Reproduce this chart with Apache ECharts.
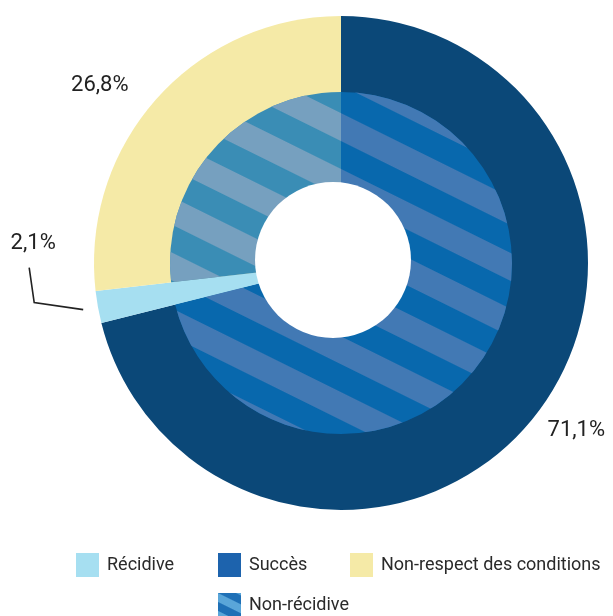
<!DOCTYPE html>
<html>
<head>
<meta charset="utf-8">
<script src="https://cdn.jsdelivr.net/npm/echarts@6/dist/echarts.min.js"></script>
<style>
html,body{margin:0;padding:0;background:#fff;}
#chart{width:613px;height:616px;}
</style>
</head>
<body>
<div id="chart"></div>
<script>
// ---- data ----
const categories = ['Succès', 'Récidive', 'Non-respect des conditions'];
const outerValues = [71.1, 2.1, 26.8];
const innerNames = ['Non-récidive', 'Récidive', 'Non-récidive (non-respect des conditions)'];
const innerValues = [71.1, 2.1, 26.8];
const legendRow1 = ['Récidive', 'Succès', 'Non-respect des conditions'];
const legendRow2 = ['Non-récidive'];

// ---- styles ----
const outerColors = ['#0b4878', '#a6dff1', '#f5eaa7'];
const innerColors = ['#0868ad', '#a6dff1', '#3a8db5'];
const stripeColors = ['#4279b4', null, '#76a0bf'];
const stripeRot = 0.46;
function stripes(color, w) {
  return { symbol: 'rect', symbolSize: 1, dashArrayX: [1, 0], dashArrayY: [w, w], rotation: stripeRot, color: color };
}
const font = 'Roboto';

const chart = echarts.init(document.getElementById('chart'), null, { renderer: 'canvas' });

const outerData = categories.map((c, i) => ({
  name: c, value: outerValues[i],
  itemStyle: { color: outerColors[i] },
  labelLine: { show: i === 1 }
}));
const innerData = innerNames.map((c, i) => ({
  name: c, value: innerValues[i],
  itemStyle: stripeColors[i] ? { color: innerColors[i], decal: stripes(stripeColors[i], 25) } : { color: innerColors[i] }
}));

const legendStyle = { color: '#2a2a2a', fontSize: 18, fontFamily: font, padding: [0, 0, 0, 3] };
function mkLegend(left, top, item) {
  return { left: left, top: top, padding: 0, itemWidth: 23, itemHeight: 24, icon: 'rect', selectedMode: false,
    textStyle: legendStyle, data: [item] };
}

chart.setOption({
  animation: false,
  legend: [
    mkLegend(76, 553, { name: legendRow1[0], itemStyle: { color: '#a6dff1' } }),
    mkLegend(218, 553, { name: legendRow1[1], itemStyle: { color: '#1d63ad' } }),
    mkLegend(350, 553, { name: legendRow1[2], itemStyle: { color: '#f5eaa7' } }),
    mkLegend(218, 593, { name: legendRow2[0], itemStyle: { color: '#1f70b6', decal: stripes('#5aa6d9', 8) } })
  ],
  series: [
    {
      type: 'pie', center: [341, 263], radius: [0, 247], startAngle: 90, clockwise: true,
      silent: true, avoidLabelOverlap: false,
      label: {
        show: true, position: 'outside', color: '#222', fontSize: 22, fontFamily: font,
        formatter: p => String(p.value).replace('.', ',') + '%'
      },
      labelLine: { show: false, length: 15, length2: 15, lineStyle: { color: '#222', width: 1.6 } },
      labelLayout: function (p) {
        if (p.dataIndex === 0) return { dx: -20, dy: 6 };
        if (p.dataIndex === 2) return { dx: 3, dy: -3 };
        const L = p.labelLinePoints;
        if (!L) return {};
        const vx = L[1][0] - L[0][0], vy = L[1][1] - L[0][1];
        const n = Math.hypot(vx, vy) || 1;
        const s = [L[0][0] + 15 * vx / n, L[0][1] + 15 * vy / n];
        const m = [s[0] - 49, s[1] - 7];
        const e = [m[0] - 5, m[1] - 35];
        return { x: e[0] + 4, y: e[1] - 24, align: 'center', verticalAlign: 'middle', labelLinePoints: [s, m, e] };
      },
      emphasis: { disabled: true },
      data: outerData
    },
    {
      type: 'pie', center: [341, 263], radius: [0, 171], startAngle: 90, clockwise: true,
      silent: true, label: { show: false }, labelLine: { show: false },
      emphasis: { disabled: true },
      data: innerData
    },
    {
      type: 'pie', center: [333, 260], radius: [0, 78], silent: true,
      label: { show: false }, labelLine: { show: false }, emphasis: { disabled: true },
      data: [{ value: 1, name: 'centre', itemStyle: { color: '#ffffff' } }]
    }
  ]
});
</script>
</body>
</html>
